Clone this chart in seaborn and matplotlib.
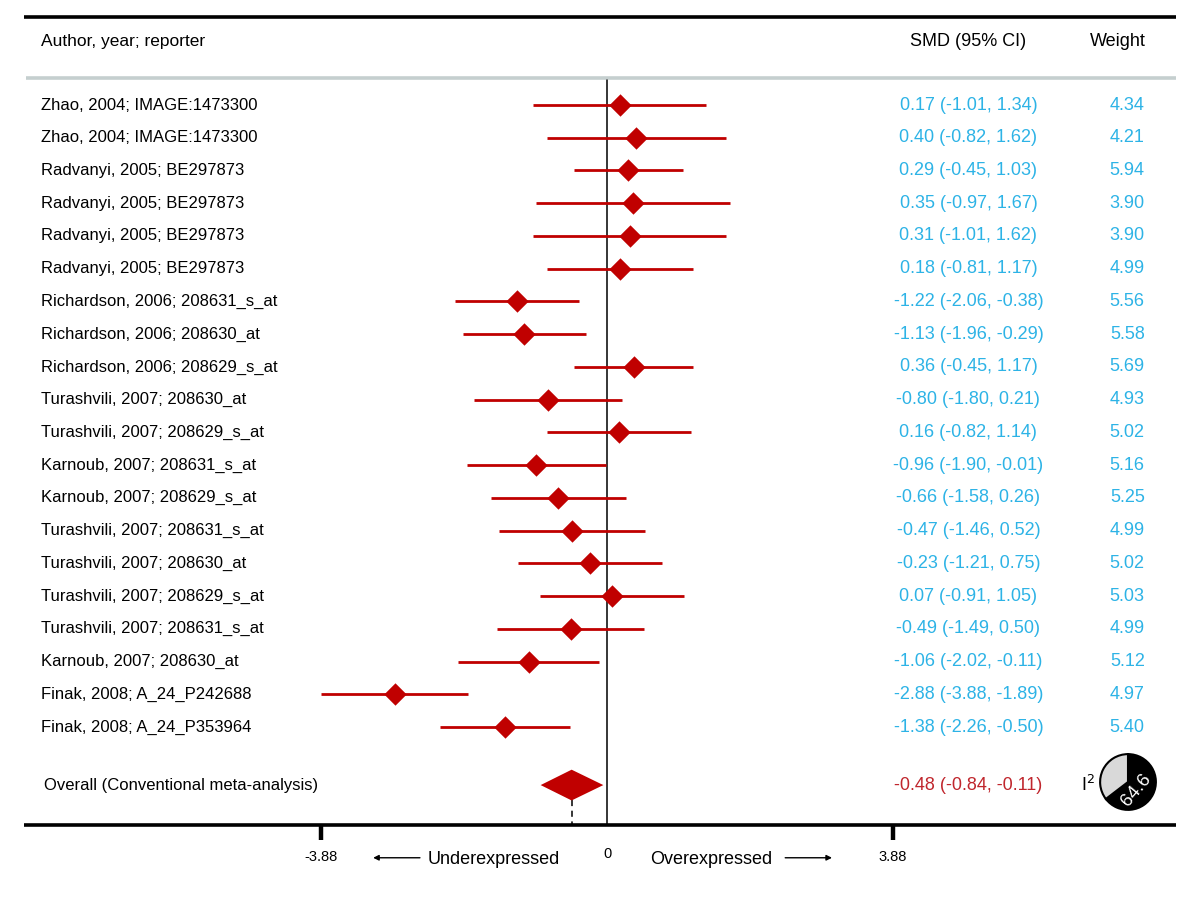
"""forest plot of standardised mean differences, seaborn version"""
import matplotlib
matplotlib.use("Agg")
import matplotlib.pyplot as plt
import matplotlib.transforms as mtransforms
from matplotlib import font_manager
import seaborn as sns
import pandas as pd

sns.set_style("white")
plt.rcParams["font.family"] = ["Liberation Sans", "DejaVu Sans"]
plt.rcParams["text.color"] = "black"

studies = [
    "Zhao, 2004; IMAGE:1473300",
    "Zhao, 2004; IMAGE:1473300",
    "Radvanyi, 2005; BE297873",
    "Radvanyi, 2005; BE297873",
    "Radvanyi, 2005; BE297873",
    "Radvanyi, 2005; BE297873",
    "Richardson, 2006; 208631_s_at",
    "Richardson, 2006; 208630_at",
    "Richardson, 2006; 208629_s_at",
    "Turashvili, 2007; 208630_at",
    "Turashvili, 2007; 208629_s_at",
    "Karnoub, 2007; 208631_s_at",
    "Karnoub, 2007; 208629_s_at",
    "Turashvili, 2007; 208631_s_at",
    "Turashvili, 2007; 208630_at",
    "Turashvili, 2007; 208629_s_at",
    "Turashvili, 2007; 208631_s_at",
    "Karnoub, 2007; 208630_at",
    "Finak, 2008; A_24_P242688",
    "Finak, 2008; A_24_P353964",
]
smd = [0.17, 0.40, 0.29, 0.35, 0.31, 0.18, -1.22, -1.13, 0.36, -0.80,
       0.16, -0.96, -0.66, -0.47, -0.23, 0.07, -0.49, -1.06, -2.88, -1.38]
lower = [-1.01, -0.82, -0.45, -0.97, -1.01, -0.81, -2.06, -1.96, -0.45, -1.80,
         -0.82, -1.90, -1.58, -1.46, -1.21, -0.91, -1.49, -2.02, -3.88, -2.26]
upper = [1.34, 1.62, 1.03, 1.67, 1.62, 1.17, -0.38, -0.29, 1.17, 0.21,
         1.14, -0.01, 0.26, 0.52, 0.75, 1.05, 0.50, -0.11, -1.89, -0.50]
weights = [4.34, 4.21, 5.94, 3.90, 3.90, 4.99, 5.56, 5.58, 5.69, 4.93,
           5.02, 5.16, 5.25, 4.99, 5.02, 5.03, 4.99, 5.12, 4.97, 5.40]

overall_label = "Overall (Conventional meta-analysis)"
overall_smd = -0.48
overall_ci = (-0.84, -0.11)
i2 = 64.6
axis_limit = 3.88

red = "#c00000"
blue = "#2db3e6"

# narrow face for study labels if available
installed = {f.name for f in font_manager.fontManager.ttflist}
if "Liberation Sans Narrow" in installed:
    label_font = dict(family=["Liberation Sans Narrow", "DejaVu Sans"],
                      fontsize=14)
else:
    label_font = dict(fontsize=12)

df = pd.DataFrame({"study": studies, "smd": smd, "lower": lower,
                   "upper": upper, "weight": weights})
df["row"] = range(len(df))
n = len(df)

fig = plt.figure(figsize=(12, 9), dpi=100)
ax = fig.add_axes([0, 0, 1, 1])

# rows in data units on y, x as figure fraction for text columns
tx = mtransforms.blended_transform_factory(ax.transAxes, ax.transData)

y_over = n + 0.77
y_axis = n + 1.99
y_top = -2.69
y_head = -1.93
y_grey = -0.82

# header and rules
ax.plot([0.02, 0.98], [y_top, y_top], color="black", lw=2.6,
        transform=tx, solid_capstyle="butt")
ax.plot([0.022, 0.98], [y_grey, y_grey], color="#c5cfcf", lw=2.6,
        transform=tx, solid_capstyle="butt")
ax.plot([0.02, 0.98], [y_axis, y_axis], color="black", lw=2.6,
        transform=tx, solid_capstyle="butt")
ax.text(0.034, y_head, "Author, year; reporter", transform=tx,
        fontsize=12.5, va="center", ha="left")
ax.text(0.807, y_head, "SMD (95% CI)", transform=tx,
        fontsize=13, va="center", ha="center")
ax.text(0.955, y_head, "Weight", transform=tx,
        fontsize=13, va="center", ha="right")

# zero line
ax.plot([0, 0], [y_grey + 0.07, y_axis], color="black", lw=1.1)

# confidence intervals and point estimates
ax.hlines(df["row"], df["lower"], df["upper"], color=red, lw=2)
sns.scatterplot(data=df, x="smd", y="row", marker="D", s=130,
                color=red, edgecolor=red, linewidth=0, ax=ax,
                legend=False, zorder=3)
ax.set_xlim(-8.235, 8.045)
ax.set_ylim(24.28, -3.207)
ax.axis("off")

for _, r in df.iterrows():
    ax.text(0.034, r["row"], r["study"], transform=tx,
            va="center", ha="left", **label_font)
    ax.text(0.807, r["row"],
            f"{r['smd']:.2f} ({r['lower']:.2f}, {r['upper']:.2f})",
            transform=tx, fontsize=13, va="center", ha="center", color=blue)
    ax.text(0.954, r["row"], f"{r['weight']:.2f}", transform=tx,
            fontsize=13, va="center", ha="right", color=blue)

# overall diamond
lo, hi = overall_ci
ax.fill([lo - 0.06, overall_smd, hi + 0.06, overall_smd],
        [y_over, y_over - 0.47, y_over, y_over + 0.47],
        color=red, lw=0, zorder=3)
ax.plot([overall_smd, overall_smd], [y_over + 0.47, y_axis],
        color="black", lw=1.1, ls=(0, (4, 3)))
ax.text(0.037, y_over, overall_label, transform=tx, fontsize=12,
        va="center", ha="left")
ax.text(0.807, y_over, f"{overall_smd:.2f} ({lo:.2f}, {hi:.2f})",
        transform=tx, fontsize=13, va="center", ha="center", color="#c0262d")
ax.text(0.907, y_over, r"I$^2$", transform=tx, fontsize=13,
        va="center", ha="center")

# axis ticks and labels
for v in (-axis_limit, axis_limit):
    ax.plot([v, v], [y_axis, y_axis + 0.47], color="black", lw=3.2,
            solid_capstyle="butt")
    ax.text(v, y_axis + 0.98, f"{v:.2f}", fontsize=10.5, ha="center",
            va="center")
ax.text(0, y_axis + 0.9, "0", fontsize=10.5, ha="center", va="center")
ax.text(-1.53, y_axis + 1.05, "Underexpressed", fontsize=13,
        ha="center", va="center")
ax.text(1.42, y_axis + 1.05, "Overexpressed", fontsize=13,
        ha="center", va="center")
ax.annotate("", xy=(-3.21, y_axis + 1.0), xytext=(-2.5, y_axis + 1.0),
            arrowprops=dict(arrowstyle="-|>", color="black", lw=1,
                            mutation_scale=8))
ax.annotate("", xy=(3.09, y_axis + 1.0), xytext=(2.38, y_axis + 1.0),
            arrowprops=dict(arrowstyle="-|>", color="black", lw=1,
                            mutation_scale=8))

# heterogeneity pie
pax = fig.add_axes([1099 / 1200, 1 - 811 / 900, 58 / 1200, 58 / 900])
pax.pie([i2, 100 - i2], colors=["black", "#d9d9d9"], startangle=90,
        counterclock=False, radius=1,
        wedgeprops=dict(edgecolor="black", linewidth=1.5))
pax.set_xlim(-1.04, 1.04)
pax.set_ylim(-1.04, 1.04)
pax.set_aspect("equal")
pax.text(0.3, -0.3, f"{i2:.1f}", color="white", fontsize=13.5,
         rotation=50, ha="center", va="center")

fig.savefig("out.png", dpi=100)
